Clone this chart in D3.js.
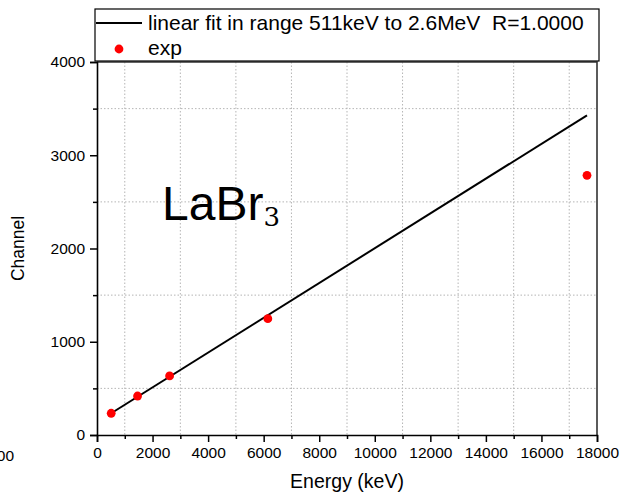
<!doctype html>
<html lang="en">
<head>
    <meta charset="utf-8">
    <title>LaBr3 calibration</title>
    <script src="https://d3js.org/d3.v7.min.js"></script>
    <style>
        body { margin: 0; background: #fff; }
        svg { font-family: "Liberation Sans", Arial, sans-serif; }
    </style>
</head>
<body>
    <div id="chart"></div>
    <script>
        // measured points (energy in keV, channel)
        var energy = [511, 1460, 2614, 6150, 17640];
        var channel = [233, 418, 633, 1247, 2785];

        // linear fit drawn between these two ends
        var fitEnergy = [511, 17640];
        var fitChannel = [233, 3428];

        var xTicks = [0, 2000, 4000, 6000, 8000, 10000, 12000, 14000, 16000, 18000];
        var xMinor = [1000, 3000, 5000, 7000, 9000, 11000, 13000, 15000, 17000];
        var yTicks = [0, 1000, 2000, 3000, 4000];
        var yMinor = [500, 1500, 2500, 3500];

        var width = 620, height = 496;
        var mLeft = 97, mRight = 597, mTop = 62, mBottom = 435;

        var svg = d3.select("#chart").append("svg")
            .attr("width", width)
            .attr("height", height);

        var x = d3.scaleLinear().domain([0, 18000]).range([mLeft, mRight]);
        var y = d3.scaleLinear().domain([0, 4000]).range([mBottom, mTop]);

        // dotted grid on the minor positions
        svg.append("g").selectAll("line")
            .data(xMinor).enter().append("line")
            .attr("x1", d => x(d)).attr("x2", d => x(d))
            .attr("y1", mTop).attr("y2", mBottom)
            .attr("stroke", "#b5b5b5").attr("stroke-width", 1)
            .attr("stroke-dasharray", "1.5,2");
        svg.append("g").selectAll("line")
            .data(yMinor).enter().append("line")
            .attr("x1", mLeft).attr("x2", mRight)
            .attr("y1", d => y(d)).attr("y2", d => y(d))
            .attr("stroke", "#b5b5b5").attr("stroke-width", 1)
            .attr("stroke-dasharray", "1.5,2");

        // frame (top and right)
        svg.append("path")
            .attr("d", "M" + mLeft + "," + mTop + "H" + mRight + "V" + mBottom)
            .attr("fill", "none").attr("stroke", "#333").attr("stroke-width", 1.6);

        // x axis
        svg.append("g")
            .attr("transform", "translate(0," + mBottom + ")")
            .call(d3.axisBottom(x).tickValues(xTicks).tickFormat(d3.format("d")).tickSize(7).tickPadding(5));
        svg.append("g")
            .attr("transform", "translate(0," + mBottom + ")")
            .call(d3.axisBottom(x).tickValues(xMinor).tickFormat("").tickSize(4))
            .call(g => g.select(".domain").remove());

        // y axis
        svg.append("g")
            .attr("transform", "translate(" + mLeft + ",0)")
            .call(d3.axisLeft(y).tickValues(yTicks).tickFormat(d3.format("d")).tickSize(7).tickPadding(5));
        svg.append("g")
            .attr("transform", "translate(" + mLeft + ",0)")
            .call(d3.axisLeft(y).tickValues(yMinor).tickFormat("").tickSize(4))
            .call(g => g.select(".domain").remove());

        svg.selectAll(".domain").attr("stroke", "#000").attr("stroke-width", 1.6);
        svg.selectAll(".tick line").attr("stroke", "#000").attr("stroke-width", 1.5);
        svg.selectAll(".tick text")
            .attr("font-family", "Liberation Sans, Arial, sans-serif")
            .attr("font-size", 15.5).attr("fill", "#000");

        // axis titles
        svg.append("text")
            .attr("x", (mLeft + mRight) / 2).attr("y", 488)
            .attr("text-anchor", "middle")
            .attr("font-size", 19.5)
            .text("Energy (keV)");
        svg.append("text")
            .attr("transform", "translate(24," + (mBottom + mTop) / 2 + ") rotate(-90)")
            .attr("text-anchor", "middle")
            .attr("font-size", 17.5)
            .text("Channel");

        // stray clipped label at the lower left
        svg.append("text")
            .attr("x", 14).attr("y", 461)
            .attr("text-anchor", "end")
            .attr("font-size", 15.5)
            .text("2000");

        // fit line
        var line = d3.line()
            .x(d => x(d[0]))
            .y(d => y(d[1]));
        svg.append("path")
            .datum(d3.zip(fitEnergy, fitChannel))
            .attr("d", line)
            .attr("fill", "none")
            .attr("stroke", "#000")
            .attr("stroke-width", 2);

        // points
        svg.append("g").selectAll("circle")
            .data(d3.zip(energy, channel))
            .enter().append("circle")
            .attr("cx", d => x(d[0]))
            .attr("cy", d => y(d[1]))
            .attr("r", 4.4)
            .attr("fill", "#ff0000");

        // LaBr3 label
        var lab = svg.append("text")
            .attr("x", 162).attr("y", 220)
            .attr("font-size", 48)
            .text("LaBr");
        lab.append("tspan")
            .attr("font-family", "DejaVu Serif, Liberation Serif, serif")
            .attr("font-size", 26)
            .attr("dy", 6)
            .text("3");

        // legend
        var leg = svg.append("g");
        leg.append("rect")
            .attr("x", 95).attr("y", 9)
            .attr("width", 504).attr("height", 52)
            .attr("fill", "#fff")
            .attr("stroke", "#000").attr("stroke-width", 1.2);
        leg.append("line")
            .attr("x1", 96).attr("x2", 142)
            .attr("y1", 23).attr("y2", 23)
            .attr("stroke", "#000").attr("stroke-width", 2);
        leg.append("text")
            .attr("x", 148).attr("y", 30)
            .attr("font-size", 21)
            .text("linear fit in range 511keV to 2.6MeV\u00a0\u00a0R=1.0000");
        leg.append("circle")
            .attr("cx", 119).attr("cy", 49).attr("r", 4.4)
            .attr("fill", "#ff0000");
        leg.append("text")
            .attr("x", 148).attr("y", 55)
            .attr("font-size", 21)
            .text("exp");
    </script>
</body>
</html>
